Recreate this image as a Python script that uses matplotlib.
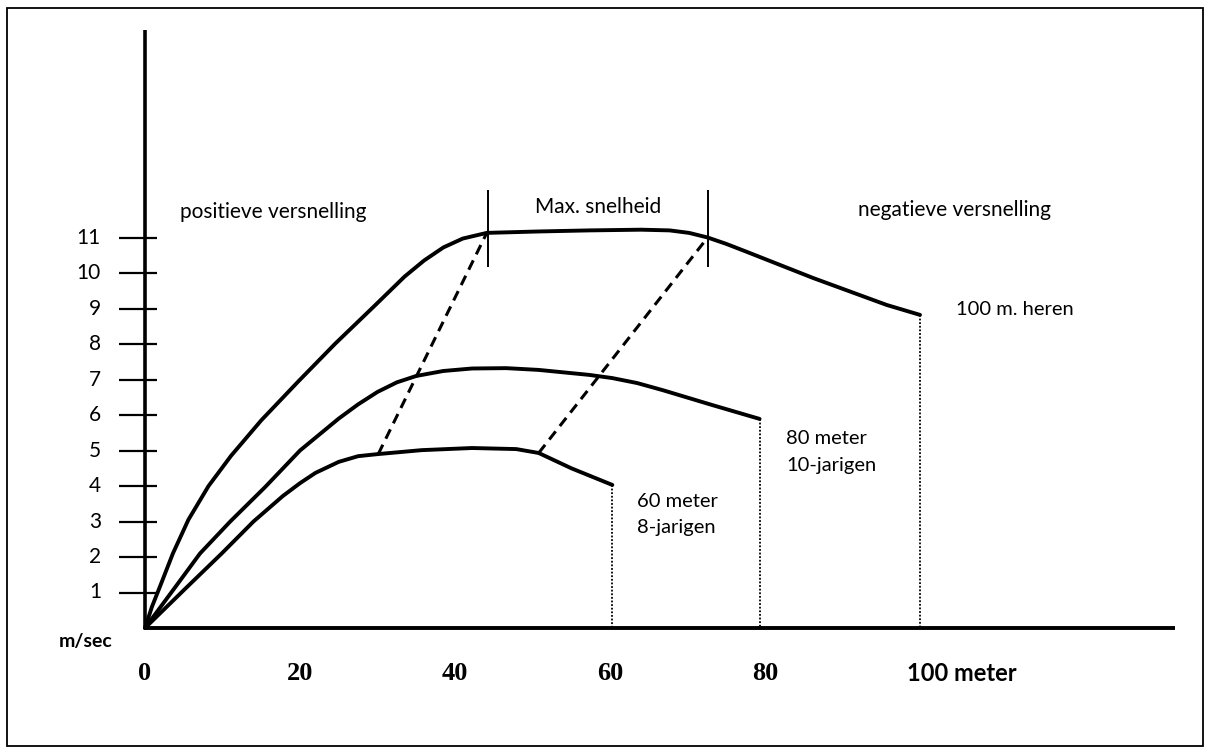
import numpy as np
import matplotlib
matplotlib.use("Agg")
import matplotlib.pyplot as plt
from matplotlib.patches import Rectangle

# afstand (m) en snelheid (m/sec)
heren_x = [0, 0.9, 1.9, 3.6, 5.6, 8.2, 11.1, 15.0, 19.8, 24.5, 29.5, 33.5,
           36.0, 38.5, 41.0, 44.1, 50.8, 57.3, 64.0, 67.7, 70.2, 72.6, 75.0,
           77.6, 86.2, 95.7, 100]
heren_y = [0, 0.6, 1.15, 2.1, 3.05, 4.0, 4.85, 5.85, 6.95, 8.0, 9.05, 9.9,
           10.35, 10.72, 10.97, 11.13, 11.17, 11.2, 11.22, 11.2, 11.13, 11.0,
           10.82, 10.6, 9.86, 9.1, 8.82]

tien_x = [0, 3.9, 7.1, 11.0, 15.5, 20.0, 25.0, 27.5, 30.0, 32.5, 35.0, 38.5,
          42.2, 46.6, 50.8, 57.3, 60.3, 63.5, 66.8, 73.2, 79.3]
tien_y = [0, 1.15, 2.1, 3.0, 3.97, 5.0, 5.9, 6.3, 6.65, 6.92, 7.1, 7.24,
          7.31, 7.32, 7.27, 7.13, 7.04, 6.9, 6.70, 6.28, 5.89]

acht_x = [0, 5.4, 9.9, 14.0, 17.8, 20.0, 22.0, 25.0, 27.5, 30.1, 35.7, 42.2,
          47.9, 50.8, 55.0, 60.3]
acht_y = [0, 1.15, 2.1, 3.0, 3.72, 4.08, 4.37, 4.68, 4.84, 4.9, 5.01, 5.07,
          5.04, 4.93, 4.5, 4.03]

# overgangen (gestreept): begin en einde van de max. snelheid
dash1_x = [30.1, 44.1]
dash1_y = [4.9, 11.13]
dash2_x = [50.8, 72.6]
dash2_y = [4.93, 11.0]

markers_x = [44.3, 72.6]
y_ticks = list(range(1, 12))
x_labels = ["0", "20", "40", "60", "80"]
x_label_pos = [0, 20, 40, 60, 80]

# pixel -> data: x = (px - 145) / 7.75, y = (628 - py) / 35.5
sx, sy = 7.75, 35.5

fig = plt.figure(figsize=(12.11, 7.55), dpi=100)
ax = fig.add_axes([0, 0, 1, 1])
ax.set_xlim(-145 / sx, (1211 - 145) / sx)
ax.set_ylim(-(755 - 628) / sy, 628 / sy)
ax.axis("off")

fig.patches.append(Rectangle((7 / 1211, 1 - 746 / 755), 1196 / 1211, 738 / 755,
                             transform=fig.transFigure, fill=False,
                             edgecolor="black", lw=1.3))

# assen
ax.plot([0, 0], [0, (628 - 30) / sy], color="black", lw=2.6, solid_capstyle="butt")
ax.plot([0, (1175 - 145) / sx], [0, 0], color="black", lw=2.8, solid_capstyle="butt")
ax.hlines(y_ticks, (119 - 145) / sx, (157 - 145) / sx, color="black", lw=1.6)
for v in y_ticks:
    ax.text((101 - 145) / sx, v, str(v), ha="right", va="center",
            fontsize=15, family="Lato")
ax.text((113 - 145) / sx, -0.39, "m/sec", ha="right", va="center",
        fontsize=14, family="Lato", fontweight="bold")
for p, s in zip(x_label_pos, x_labels):
    ax.text(p, -1.27, s, ha="center", va="center", fontsize=19,
            family="Liberation Serif", fontweight="bold")
ax.text(98.3, -1.27, "100 meter", ha="left", va="center", fontsize=17,
        family="Lato", fontweight="bold")

# curves
for xs, ys in [(heren_x, heren_y), (tien_x, tien_y), (acht_x, acht_y)]:
    ax.plot(xs, ys, color="black", lw=2.8, solid_joinstyle="round",
            solid_capstyle="round")
    ax.plot([xs[-1], xs[-1]], [ys[-1], 0], color="black", lw=1.3,
            linestyle=(0, (1, 1)))

for xs, ys in [(dash1_x, dash1_y), (dash2_x, dash2_y)]:
    ax.plot(xs, ys, color="black", lw=2.2, dashes=(3.4, 2.2))

ax.vlines(markers_x, (628 - 267) / sy, (628 - 190) / sy, color="black", lw=1.4)

# teksten
ax.text((180 - 145) / sx, 11.72, "positieve versnelling", ha="left",
        va="center", fontsize=15, family="Lato")
ax.text(sum(markers_x) / 2, 11.86, "Max. snelheid", ha="center",
        va="center", fontsize=15, family="Lato")
ax.text((858 - 145) / sx, 11.77, "negatieve versnelling", ha="left",
        va="center", fontsize=15, family="Lato")
ax.text((956 - 145) / sx, 8.96, "100 m. heren", ha="left", va="center",
        fontsize=14.5, family="Lato")
ax.text((786 - 145) / sx, 5.35, "80 meter", ha="left", va="center",
        fontsize=14.5, family="Lato")
ax.text((786 - 145) / sx, 4.59, "10-jarigen", ha="left", va="center",
        fontsize=14.5, family="Lato")
ax.text((637 - 145) / sx, 3.55, "60 meter", ha="left", va="center",
        fontsize=14.5, family="Lato")
ax.text((637 - 145) / sx, 2.82, "8-jarigen", ha="left", va="center",
        fontsize=14.5, family="Lato")

fig.savefig("out.png", dpi=100)
